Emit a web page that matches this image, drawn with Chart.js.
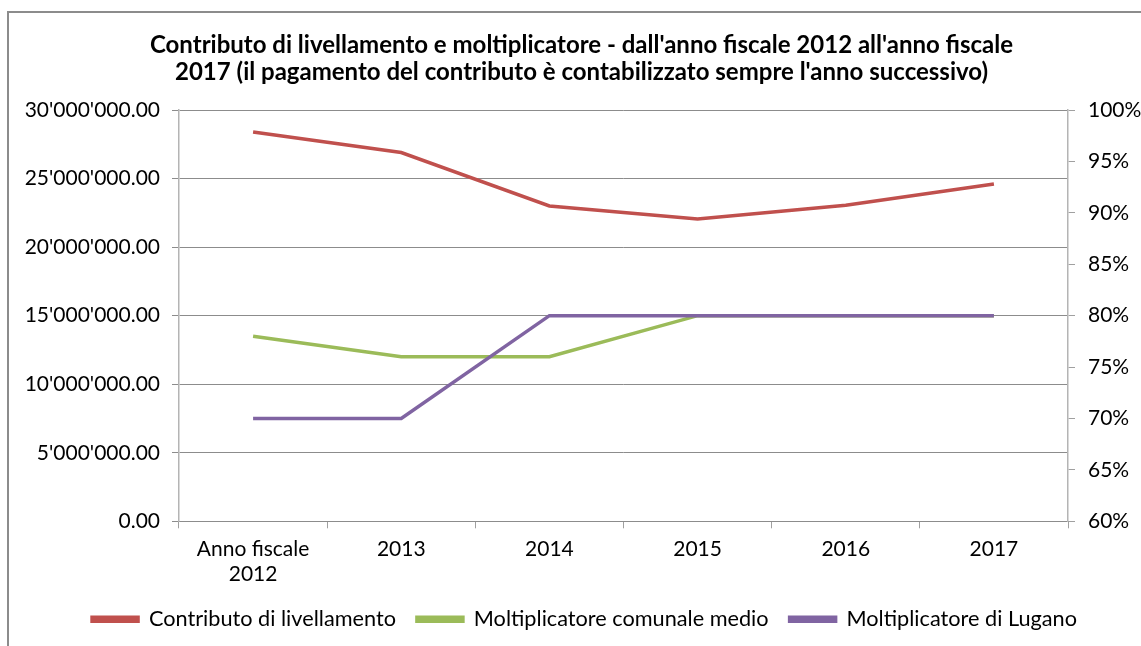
<!DOCTYPE html>
<html>
<head>
<meta charset="utf-8">
<script src="https://cdn.jsdelivr.net/npm/chart.js@4.4.1/dist/chart.umd.min.js"></script>
<style>
  html, body { margin: 0; padding: 0; background: #fff; overflow: hidden; }
  #frame { position: absolute; left: 7px; top: 11px; width: 1300px; height: 800px; border: 2px solid #8c8c8c; box-sizing: border-box; }
  #wrap { position: absolute; left: 0; top: 0; width: 1141px; height: 646px; }
</style>
</head>
<body>
<div id="frame"></div>
<div id="wrap"><canvas id="c" width="1141" height="646"></canvas></div>
<script>
const categories = [["Anno fiscale", "2012"], "2013", "2014", "2015", "2016", "2017"];
const contributo = [28400000, 26900000, 23000000, 22050000, 23050000, 24600000];
const moltComunale = [78, 76, 76, 80, 80, 80];
const moltLugano = [70, 70, 80, 80, 80, 80];
const seriesNames = ["Contributo di livellamento", "Moltiplicatore comunale medio", "Moltiplicatore di Lugano"];
const titleLines = ["Contributo di livellamento e moltiplicatore - dall'anno fiscale 2012 all'anno fiscale",
                    "2017 (il pagamento del contributo è contabilizzato sempre l'anno successivo)"];

function fmtNum(v) {
  const parts = Math.round(v).toString().replace(/\B(?=(\d{3})+(?!\d))/g, "'");
  return parts + ".00";
}

const FONT = "Lato, 'Open Sans', sans-serif";

const boxShift = {
  id: 'boxShift',
  afterLayout(chart) {
    chart.legend.left += 14;
    chart.legend.right += 14;
    chart.titleBlock.left += 11;
    chart.titleBlock.right += 11;
  }
};

new Chart(document.getElementById('c'), {
  type: 'line',
  data: {
    labels: categories,
    datasets: [
      { label: seriesNames[0], data: contributo, yAxisID: 'y', borderColor: '#C0504D', backgroundColor: '#C0504D', borderWidth: 3.5, pointRadius: 0, tension: 0, order: 0 },
      { label: seriesNames[1], data: moltComunale, yAxisID: 'y2', borderColor: '#9BBB59', backgroundColor: '#9BBB59', borderWidth: 3.5, pointRadius: 0, tension: 0, order: 2 },
      { label: seriesNames[2], data: moltLugano, yAxisID: 'y2', borderColor: '#8064A2', backgroundColor: '#8064A2', borderWidth: 3.5, pointRadius: 0, tension: 0, order: 1 }
    ]
  },
  options: {
    responsive: false,
    animation: false,
    layout: { padding: { left: 0, right: 0, top: 0, bottom: 6 } },
    plugins: {
      title: {
        display: true,
        text: titleLines,
        color: '#000',
        font: { family: FONT, size: 24, weight: 'bold', lineHeight: 1.125 },
        padding: { top: 31.5, bottom: 24.5 }
      },
      legend: {
        position: 'bottom',
        labels: {
          color: '#000',
          font: { family: FONT, size: 21.7 },
          boxWidth: 46,
          boxHeight: 4,
          padding: 21,
          sort: (a, b) => a.datasetIndex - b.datasetIndex
        }
      },
      tooltip: { enabled: false }
    },
    scales: {
      x: {
        offset: true,
        grid: { display: true, drawOnChartArea: false, drawTicks: true, tickLength: 7, color: '#a0a0a0', offset: true },
        border: { display: true, color: '#8c8c8c', width: 1 },
        ticks: { color: '#000', font: { family: FONT, size: 21, lineHeight: 1.2 }, padding: 8, maxRotation: 0 },
        afterFit: (s) => { s.height = 66; }
      },
      y: {
        position: 'left',
        min: 0, max: 30000000,
        ticks: { stepSize: 5000000, color: '#000', font: { family: FONT, size: 21 }, padding: 12, callback: (v) => fmtNum(v) },
        grid: { color: '#8c8c8c', tickLength: 7, drawTicks: true },
        border: { display: true, color: '#b4b4b4', width: 1.5 },
        afterFit: (s) => { s.width = 179; }
      },
      y2: {
        position: 'right',
        min: 60, max: 100,
        ticks: { stepSize: 5, color: '#000', font: { family: FONT, size: 21 }, padding: 13, callback: (v) => v + '%' },
        grid: { drawOnChartArea: false, tickLength: 7, color: '#a0a0a0' },
        border: { display: true, color: '#b4b4b4', width: 1.5 },
        afterFit: (s) => { s.width = 73; }
      }
    }
  },
  plugins: [boxShift]
});
</script>
</body>
</html>
